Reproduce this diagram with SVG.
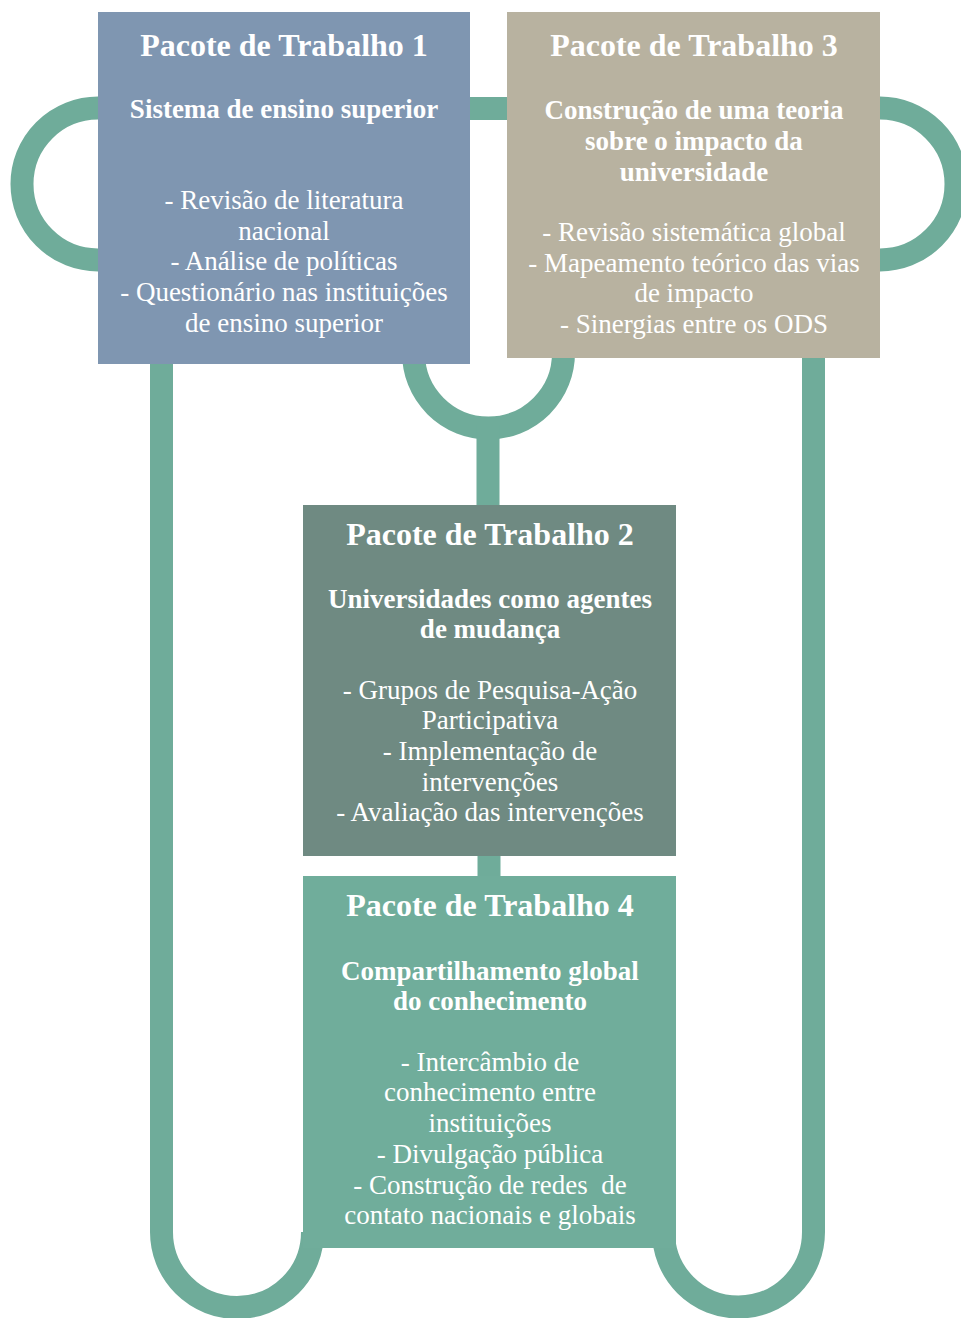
<svg xmlns="http://www.w3.org/2000/svg" width="961" height="1318" viewBox="0 0 961 1318">
<style>
.c{fill:none;stroke:#6fac9a;stroke-width:23}
.t{font-family:"Liberation Serif","Times New Roman",serif;fill:#fff;text-anchor:middle}
.h{font-size:32px;font-weight:bold}
.s{font-size:27px;font-weight:bold}
.b{font-size:27px;white-space:pre}
</style>
<rect width="961" height="1318" fill="#fff"/>
<g id="connectors">
<line class="c" x1="98" y1="108.5" x2="880" y2="108.5"/>
<circle class="c" cx="98" cy="184" r="76"/>
<circle class="c" cx="880" cy="184" r="76"/>
<path class="c" d="M413.5,340 V353 A75,75 0 0 0 563.5,353 V340"/>
<line class="c" x1="488" y1="425" x2="488" y2="510"/>
<line class="c" x1="489" y1="850" x2="489" y2="880"/>
<path class="c" d="M161.5,360 V1232 A75.5,75.5 0 0 0 312.5,1232 V1240"/>
<path class="c" d="M663.5,1240 V1232 A75,75 0 0 0 813.5,1232 V355"/>
</g>
<g id="wp1">
<rect x="98" y="12" width="372" height="352" fill="#7f96b1"/>
<text class="t h" x="284" y="56">Pacote de Trabalho 1</text>
<text class="t s" x="284" y="118">Sistema de ensino superior</text>
<text class="t b" x="284" y="209">- Revisão de literatura</text>
<text class="t b" x="284" y="240">nacional</text>
<text class="t b" x="284" y="270">- Análise de políticas</text>
<text class="t b" x="284" y="301">- Questionário nas instituições</text>
<text class="t b" x="284" y="332">de ensino superior</text>
</g>
<g id="wp3">
<rect x="507" y="12" width="373" height="346" fill="#b8b2a0"/>
<text class="t h" x="694" y="56">Pacote de Trabalho 3</text>
<text class="t s" x="694" y="119">Construção de uma teoria</text>
<text class="t s" x="694" y="150">sobre o impacto da</text>
<text class="t s" x="694" y="181">universidade</text>
<text class="t b" x="694" y="241">- Revisão sistemática global</text>
<text class="t b" x="694" y="272">- Mapeamento teórico das vias</text>
<text class="t b" x="694" y="302">de impacto</text>
<text class="t b" x="694" y="333">- Sinergias entre os ODS</text>
</g>
<g id="wp2">
<rect x="303" y="505" width="373" height="351" fill="#6f8a82"/>
<text class="t h" x="490" y="545">Pacote de Trabalho 2</text>
<text class="t s" x="490" y="608">Universidades como agentes</text>
<text class="t s" x="490" y="638">de mudança</text>
<text class="t b" x="490" y="699">- Grupos de Pesquisa-Ação</text>
<text class="t b" x="490" y="729">Participativa</text>
<text class="t b" x="490" y="760">- Implementação de</text>
<text class="t b" x="490" y="791">intervenções</text>
<text class="t b" x="490" y="821">- Avaliação das intervenções</text>
</g>
<g id="wp4">
<rect x="303" y="876" width="373" height="372" fill="#70ad9b"/>
<text class="t h" x="490" y="916">Pacote de Trabalho 4</text>
<text class="t s" x="490" y="980">Compartilhamento global</text>
<text class="t s" x="490" y="1010">do conhecimento</text>
<text class="t b" x="490" y="1071">- Intercâmbio de</text>
<text class="t b" x="490" y="1101">conhecimento entre</text>
<text class="t b" x="490" y="1132">instituições</text>
<text class="t b" x="490" y="1163">- Divulgação pública</text>
<text class="t b" x="490" y="1194">- Construção de redes  de</text>
<text class="t b" x="490" y="1224">contato nacionais e globais</text>
</g>
</svg>
